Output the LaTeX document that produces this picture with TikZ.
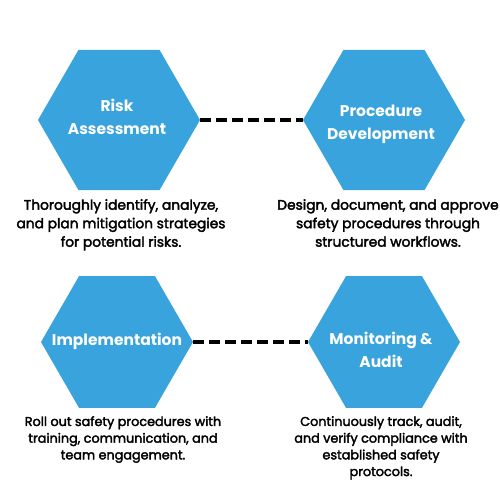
\documentclass[tikz,border=0pt]{standalone}
\usepackage{fontspec}
\setmainfont{Poppins}
\newfontfamily\descfont[FakeBold=2.5]{Poppins}
\usetikzlibrary{shapes.geometric}
\definecolor{hexblue}{RGB}{56,163,221}
\tikzset{
  hexbig/.style={regular polygon, regular polygon sides=6,
    fill=hexblue, draw=none, inner sep=0pt, outer sep=0pt, minimum size=162pt},
  hexsmall/.style={hexbig, minimum size=152pt},
  hexlabel/.style={text=white, font=\bfseries\fontsize{15.5}{23}\selectfont, align=center, inner sep=0pt},
  desctop/.style={text=black, font=\descfont\fontsize{13.8}{18.5}\selectfont, align=center, inner sep=0pt, anchor=north},
  descbot/.style={text=black, font=\descfont\fontsize{12.8}{16.7}\selectfont, align=center, inner sep=0pt, anchor=north},
  linkline/.style={line width=4pt, dash pattern=on 10.5pt off 5.5pt, black}
}
\begin{document}
\begin{tikzpicture}[x=1pt,y=-1pt]
\useasboundingbox (0,0) rectangle (500,500);
\fill[white] (0,0) rectangle (500,500);
\node[hexbig] (h1) at (119,120) {};
\node[hexbig] (h2) at (384,120) {};
\node[hexsmall] (h3) at (117,342) {};
\node[hexsmall] (h4) at (384,342) {};
\draw[linkline] (h1.east) -- (h2.west);
\draw[linkline] (h3.east) -- (h4.west);
\node[hexlabel] (l1) at (117,117) {Risk\\Assessment};
\node[hexlabel] (l2) at (381,124) {Procedure\\Development};
\node[hexlabel] (l3) at (117,341) {Implementation};
\node[hexlabel] (l4) at (381,350) {Monitoring \&\\Audit};
\node[desctop] (d1) at (121,199) {Thoroughly identify, analyze,\\and plan mitigation strategies\\for potential risks.};
\node[desctop] (d2) at (388,199) {Design, document, and approve\\safety procedures through\\structured workflows.};
\node[descbot] (d3) at (123,416) {Roll out safety procedures with\\training, communication, and\\team engagement.};
\node[descbot] (d4) at (381,416) {Continuously track, audit,\\and verify compliance with\\established safety\\protocols.};
\end{tikzpicture}
\end{document}
